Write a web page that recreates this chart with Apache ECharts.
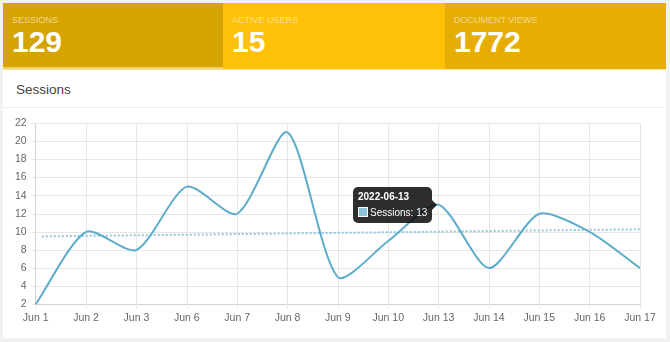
<!DOCTYPE html>
<html>
<head>
<meta charset="utf-8">
<script src="https://cdn.jsdelivr.net/npm/echarts@6/dist/echarts.min.js"></script>
<style>
  html, body { margin: 0; padding: 0; }
  body { width: 670px; height: 342px; background: #f1f1f1; position: relative; overflow: hidden;
         font-family: "Liberation Sans", Arial, Helvetica, sans-serif; }
  .tiles { position: absolute; left: 3px; top: 3px; width: 663px; height: 66px; display: flex; }
  .tile { height: 100%; box-sizing: border-box; padding-left: 9px; color: #fff; position: relative; }
  .tile .lbl { font-size: 9px; margin-top: 12px; height: 11px; line-height: 11px; color: rgba(255,255,255,0.55); }
  .tile .num { font-size: 30px; font-weight: bold; line-height: 30px; margin-top: 1px; }
  .tile.first::after { content: ""; position: absolute; left: 0; right: 0; bottom: 0; height: 2px; background: #efd06e; }
  .strip { position: absolute; left: 3px; top: 69px; width: 663px; height: 1px; background: #fde39a; }
  .card { position: absolute; left: 3px; top: 70px; width: 663px; height: 268px; background: #fff; }
  .card .title { position: absolute; left: 13px; top: 12px; font-size: 13.5px; color: #444; }
  .card .sep { position: absolute; left: 0; top: 37px; width: 100%; height: 1px; background: #eeeeee; }
  #chart { position: absolute; left: 0; top: 0; width: 670px; height: 342px; }
</style>
</head>
<body>
<div class="tiles">
  <div class="tile first" style="width:220px;background:#d6a402"><div class="lbl">SESSIONS</div><div class="num" id="n-sessions"></div></div>
  <div class="tile" style="width:222px;background:#ffc107"><div class="lbl">ACTIVE USERS</div><div class="num" id="n-users"></div></div>
  <div class="tile" style="width:221px;background:#e6ad04"><div class="lbl">DOCUMENT VIEWS</div><div class="num" id="n-views"></div></div>
</div>
<div class="strip"></div>
<div class="card"><div class="title">Sessions</div><div class="sep"></div></div>
<div id="chart"></div>
<script>
// Daily sessions
const dates = ['2022-06-01', '2022-06-02', '2022-06-03', '2022-06-06', '2022-06-07', '2022-06-08', '2022-06-09',
               '2022-06-10', '2022-06-13', '2022-06-14', '2022-06-15', '2022-06-16', '2022-06-17'];
const sessions = [2, 10, 8, 15, 12, 21, 5, 9, 13, 6, 12, 10, 6];

// Trend line endpoints (position along the date index, value)
const trendX = [0.12, 12.13];
const trendY = [9.5, 10.3];

// Summary figures
const activeUsers = 15;
const documentViews = 1772;

// Y axis ticks
const yMin = 2, yMax = 22, yStep = 2;

// Highlighted day shown in the tooltip
const focusIndex = 8;

document.getElementById('n-sessions').textContent = sessions.reduce((a, b) => a + b, 0);
document.getElementById('n-users').textContent = activeUsers;
document.getElementById('n-views').textContent = documentViews;

const MONTHS = ['Jan', 'Feb', 'Mar', 'Apr', 'May', 'Jun', 'Jul', 'Aug', 'Sep', 'Oct', 'Nov', 'Dec'];
function shortDate(iso) {
  const p = iso.split('-');
  return MONTHS[parseInt(p[1], 10) - 1] + ' ' + parseInt(p[2], 10);
}

const lineColor = '#5eaccb';
const gridColor = '#e6e6e6';
const axisColor = '#d2d2d2';
const labelStyle = { color: '#666', fontSize: 10.5, fontFamily: 'Liberation Sans, Arial, sans-serif' };
const TENSION = 0.25;

// Cardinal-style spline control points around pixel point `cur`
function controlPoints(prev, cur, next) {
  const d01 = Math.hypot(cur[0] - prev[0], cur[1] - prev[1]);
  const d12 = Math.hypot(next[0] - cur[0], next[1] - cur[1]);
  const sum = d01 + d12 || 1;
  const fa = TENSION * d01 / sum, fb = TENSION * d12 / sum;
  const vx = next[0] - prev[0], vy = next[1] - prev[1];
  return {
    before: [cur[0] - fa * vx, cur[1] - fa * vy],
    after: [cur[0] + fb * vx, cur[1] + fb * vy]
  };
}

// Each item draws the curved segment from its own point to the next one
function renderSegment(params, api) {
  const i = params.dataIndex;
  const n = sessions.length;
  const pt = k => api.coord([Math.max(0, Math.min(n - 1, k)), sessions[Math.max(0, Math.min(n - 1, k))]]);
  if (i >= n - 1) {
    const p = pt(i);
    return { type: 'circle', shape: { cx: p[0], cy: p[1], r: 1 }, style: { fill: 'rgba(0,0,0,0)' } };
  }
  const area = params.coordSys;
  const clampY = y => Math.max(area.y, Math.min(area.y + area.height, y));
  const a = controlPoints(pt(i - 1), pt(i), pt(i + 1));
  const b = controlPoints(pt(i), pt(i + 1), pt(i + 2));
  const p0 = pt(i), p1 = pt(i + 1);
  return {
    type: 'bezierCurve',
    shape: {
      x1: p0[0], y1: p0[1], x2: p1[0], y2: p1[1],
      cpx1: a.after[0], cpy1: clampY(a.after[1]),
      cpx2: b.before[0], cpy2: clampY(b.before[1])
    },
    style: { stroke: lineColor, lineWidth: 2, fill: null }
  };
}

const chart = echarts.init(document.getElementById('chart'), null, { renderer: 'canvas' });
chart.setOption({
  animation: false,
  grid: { left: 35.7, right: 30, top: 123.3, bottom: 37.7, containLabel: false },
  tooltip: {
    trigger: 'item',
    triggerOn: 'none',
    alwaysShowContent: true,
    transitionDuration: 0,
    backgroundColor: 'rgba(0,0,0,0.82)',
    borderWidth: 0,
    borderRadius: 5,
    padding: [4, 5, 4, 5],
    extraCssText: 'box-shadow:none;',
    textStyle: { color: '#fff', fontSize: 10, fontFamily: 'Liberation Sans, Arial, sans-serif' },
    position: function (point, params, dom, rect, size) {
      return [point[0] - size.contentSize[0] - 6.5, point[1] - size.contentSize[1] / 2];
    },
    formatter: function (p) {
      return '<div style="position:relative;line-height:12px;">' +
        '<div style="font-weight:bold;margin-bottom:4px;">' + dates[p.dataIndex] + '</div>' +
        '<div style="white-space:nowrap;"><span style="display:inline-block;width:8px;height:8px;' +
        'border:1px solid #fff;background:#8cc3db;vertical-align:-1px;margin-right:2px;"></span>' +
        p.seriesName + ': ' + sessions[p.dataIndex] + '</div></div>' +
        '<div style="position:absolute;right:-5px;top:50%;margin-top:-5px;width:0;height:0;' +
        'border-style:solid;border-width:5px 0 5px 5px;border-color:transparent transparent transparent rgba(0,0,0,0.82);"></div>';
    }
  },
  xAxis: [{
    type: 'category',
    data: dates,
    boundaryGap: false,
    axisLine: { show: true, lineStyle: { color: axisColor, width: 1 } },
    axisTick: { show: true, length: 4, lineStyle: { color: gridColor } },
    axisLabel: Object.assign({ margin: 8, formatter: shortDate, interval: 0 }, labelStyle),
    splitLine: { show: true, lineStyle: { color: gridColor, width: 1 } }
  }, {
    type: 'value',
    min: 0,
    max: dates.length - 1,
    show: false
  }],
  yAxis: {
    type: 'value',
    min: yMin,
    max: yMax,
    interval: yStep,
    axisLine: { show: true, lineStyle: { color: axisColor, width: 1 } },
    axisTick: { show: true, length: 4, lineStyle: { color: gridColor } },
    axisLabel: Object.assign({ margin: 9 }, labelStyle),
    splitLine: { show: true, lineStyle: { color: gridColor, width: 1 } }
  },
  series: [{
    name: 'Trend',
    type: 'line',
    xAxisIndex: 1,
    data: trendX.map((x, i) => [x, trendY[i]]),
    symbol: 'none',
    clip: false,
    silent: true,
    z: 1,
    lineStyle: { color: '#92c7de', width: 2, type: [2, 2] }
  }, {
    name: 'Sessions',
    type: 'custom',
    data: sessions.map((v, i) => [i, v]),
    encode: { x: 0, y: 1 },
    renderItem: renderSegment,
    clip: false,
    z: 2
  }]
});

chart.dispatchAction({ type: 'showTip', seriesIndex: 1, dataIndex: focusIndex });
</script>
</body>
</html>
